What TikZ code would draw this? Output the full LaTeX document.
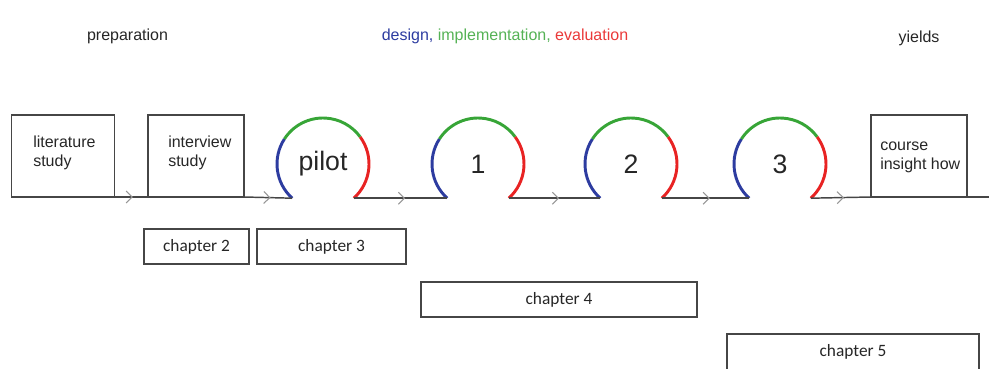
\documentclass[tikz,border=0pt]{standalone}
\usepackage{fontspec}
\setmainfont{Liberation Sans}
\newfontfamily\chapfont{Carlito}
\usetikzlibrary{arrows.meta,calc,positioning,decorations.markings}
\definecolor{CycleBlue}{RGB}{45,60,160}
\definecolor{CycleGreen}{RGB}{55,165,55}
\definecolor{CycleRed}{RGB}{232,35,35}
\definecolor{LineGray}{RGB}{70,70,70}
\definecolor{TipGray}{RGB}{150,150,150}

\begin{document}
\begin{tikzpicture}[x=0.75pt,y=0.75pt,>=Latex,
    stagebox/.style={draw=LineGray,line width=1.1pt,minimum width=#1,minimum height=61.5pt,
      anchor=south west,inner sep=0pt,outer sep=0pt},
    boxtext/.style={anchor=north west,align=left,inner sep=0pt,text=black!85,
      font=\fontsize{12}{14.25}\selectfont},
    chapbox/.style={draw=LineGray,line width=1.1pt,minimum width=#1,minimum height=26.25pt,
      inner sep=0pt,outer sep=0pt,text=black!85,font=\chapfont\fontsize{13}{15}\selectfont},
    toplabel/.style={anchor=base,text=black!85,font=\fontsize{12}{14}\selectfont},
    cyclearc/.style={line width=2.2pt},
    flow/.style={draw=LineGray,line width=1.1pt,postaction={decorate},
      decoration={markings,mark=at position 0.55 with
        {\arrow{Straight Barb[length=4.5pt,width=9pt,color=TipGray,line width=0.8pt]}}}}]
  \useasboundingbox (0,0) rectangle (989,-368);

  \node[toplabel] (prep) at (127.5,-40) {preparation};
  \node[toplabel] (die) at (505,-40) {\textcolor{CycleBlue}{design,}
    \textcolor{CycleGreen!85!white}{implementation,} \textcolor{CycleRed!90!white}{evaluation}};
  \node[toplabel] (yields) at (919,-42) {yields};

  \node[stagebox=77.25pt] (lit) at (11.5,-197) {};
  \node[stagebox=72pt] (int) at (148,-197) {};
  \node[stagebox=72pt] (course) at (871,-197) {};
  \node[boxtext] (littxt) at (33,-136) {literature\\study};
  \node[boxtext] (inttxt) at (168,-136) {interview\\study};
  \node[boxtext] (coursetxt) at (880,-142) {course\\insight how};

  \foreach \n/\cx/\t in {pilot/323/pilot,it1/478/1,it2/631/2,it3/780/3}{
    \node[text=black!85,font=\fontsize{20}{24}\selectfont] (\n) at (\cx,-164) {\t};
    \coordinate (\n-in) at ($(\n)+(228:46)$);
    \coordinate (\n-out) at ($(\n)+(-48:46)$);
    \draw[cyclearc,CycleBlue] (\n-in) arc[start angle=228,end angle=147,radius=46];
    \draw[cyclearc,CycleGreen] ($(\n)+(147:46)$) arc[start angle=147,end angle=36,radius=46];
    \draw[cyclearc,CycleRed] ($(\n)+(36:46)$) arc[start angle=36,end angle=-48,radius=46];
  }

  \coordinate (lineend) at (989,-197);
  \draw[flow] (lit.south east) -- (int.south west);
  \draw[flow] (int.south east) -- (pilot-in);
  \draw[flow] (pilot-out) -- (it1-in);
  \draw[flow] (it1-out) -- (it2-in);
  \draw[flow] (it2-out) -- (it3-in);
  \draw[flow] (it3-out) -- (course.south west);
  \draw[draw=LineGray,line width=1.1pt] (course.south east) -- (lineend);

  \node[chapbox=78.75pt] (ch2) at (196.5,-246.5) {chapter 2};
  \node[chapbox=111.75pt] (ch3) at (331.5,-246.5) {chapter 3};
  \node[chapbox=207pt] (ch4) at (559,-299.5) {chapter 4};
  \node[chapbox=189pt,minimum height=27pt] (ch5) at (853,-352) {chapter 5};
\end{tikzpicture}
\end{document}
